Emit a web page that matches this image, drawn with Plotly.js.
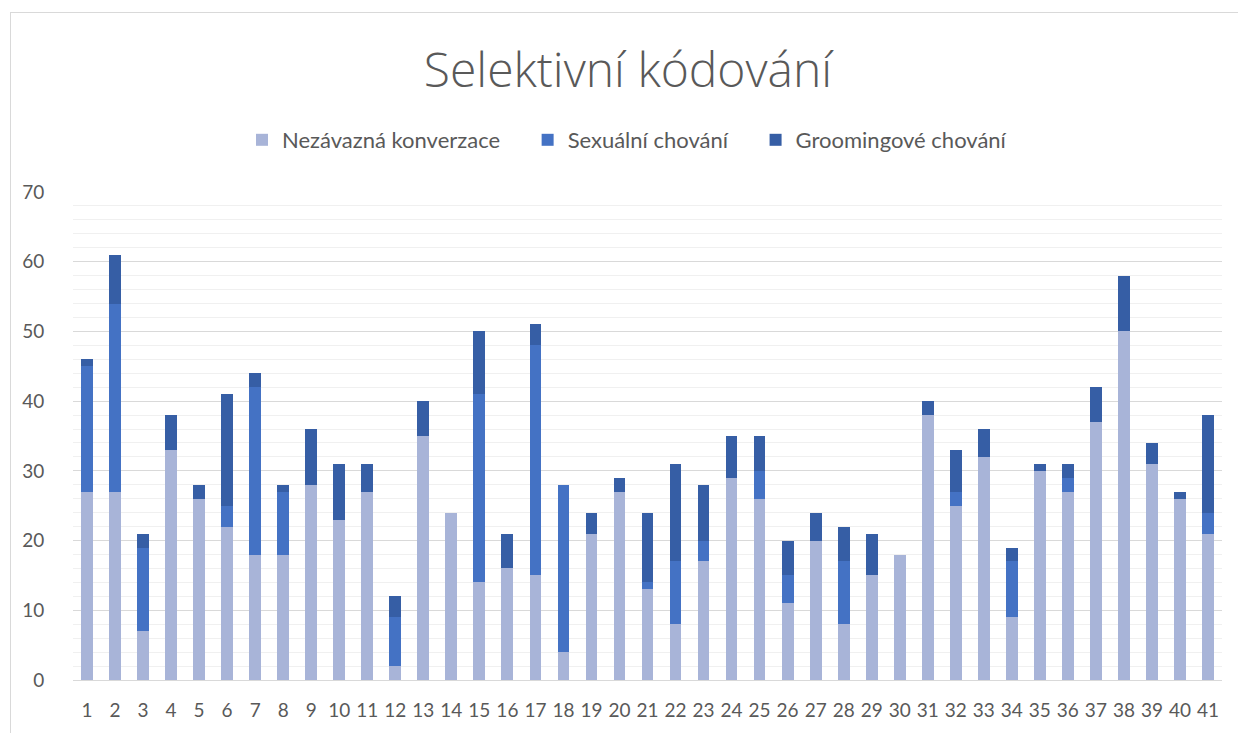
<!DOCTYPE html>
<html>
<head>
<meta charset="utf-8">
<script src="https://cdn.plot.ly/plotly-3.0.1.min.js"></script>
<style>
  html, body { margin: 0; padding: 0; background: #fff; }
  #frame { position: absolute; left: 10px; top: 12px; width: 1240px; height: 740px; border: 1px solid #d9d9d9; box-sizing: border-box; }
  #chart { position: absolute; left: 0; top: 0; width: 1238px; height: 733px; }
</style>
</head>
<body>
<div id="frame"></div>
<div id="chart"></div>
<script>
const categories = ['1','2','3','4','5','6','7','8','9','10','11','12','13','14','15','16','17','18','19','20','21','22','23','24','25','26','27','28','29','30','31','32','33','34','35','36','37','38','39','40','41'];
const nezavazna   = [27,27,7,33,26,22,18,18,28,23,27,2,35,24,14,16,15,4,21,27,13,8,17,29,26,11,20,8,15,18,38,25,32,9,30,27,37,50,31,26,21];
const sexualni    = [18,27,12,0,0,3,24,9,0,0,0,7,0,0,27,0,33,24,0,0,1,9,3,0,4,4,0,9,0,0,0,2,0,8,0,2,0,0,0,0,3];
const groomingove = [1,7,2,5,2,16,2,1,8,8,4,3,5,0,9,5,3,0,3,2,10,14,8,6,5,5,4,5,6,0,2,6,4,2,1,2,5,8,3,1,14];
const seriesNames = ['Nezávazná konverzace','Sexuální chování','Groomingové chování'];
const seriesColors = ['#A8B4D8','#4472C4','#365EA5'];
const yTicks = [0,10,20,30,40,50,60,70];

const pad = '\u00a0\u00a0\u00a0\u00a0';
const allSeries = [nezavazna, sexualni, groomingove];
const traces = allSeries.map((vals, i) => ({
  type: 'bar',
  x: categories,
  y: vals,
  name: seriesNames[i] + (i < 2 ? pad : ''),
  marker: { color: seriesColors[i], line: { width: 0 } },
  hoverinfo: 'x+y+name'
}));

const font = "Lato, 'Open Sans', 'Liberation Sans', sans-serif";
const layout = {
  width: 1238,
  height: 733,
  paper_bgcolor: 'rgba(0,0,0,0)',
  plot_bgcolor: 'rgba(0,0,0,0)',
  barmode: 'stack',
  bargap: 0.58,
  margin: { l: 73, r: 16, t: 192, b: 53 },
  font: { family: font, color: '#595959', size: 19 },
  title: {
    text: 'Selektivní kódování',
    font: { family: "'Open Sans', Lato, sans-serif", size: 48, color: '#595959', weight: 300 },
    x: 628 / 1238, xanchor: 'center', xref: 'container',
    y: 1 - 70 / 733, yanchor: 'middle', yref: 'container'
  },
  showlegend: true,
  legend: {
    orientation: 'h',
    x: (627 - 73) / 1149, xanchor: 'center',
    y: 1 + (192 - 140) / 488, yanchor: 'middle',
    traceorder: 'normal',
    font: { family: font, size: 22, color: '#595959' },
    itemwidth: 30
  },
  xaxis: {
    type: 'category',
    tickvals: categories,
    ticktext: categories,
    showgrid: false,
    showline: true,
    linecolor: '#d9d9d9',
    linewidth: 1,
    ticks: 'outside',
    ticklen: 13,
    tickcolor: 'rgba(0,0,0,0)',
    tickfont: { family: font, size: 19, color: '#595959' },
    fixedrange: true
  },
  yaxis: {
    range: [0, 70],
    tickvals: yTicks,
    showgrid: true,
    gridcolor: '#d9d9d9',
    gridwidth: 1,
    zeroline: false,
    ticks: 'outside',
    ticklen: 24,
    tickcolor: 'rgba(0,0,0,0)',
    tickfont: { family: font, size: 19, color: '#595959' },
    minor: { dtick: 2, showgrid: true, gridcolor: '#f0f0f0', gridwidth: 1, ticks: '' },
    fixedrange: true
  }
};

Plotly.newPlot('chart', traces, layout, { displayModeBar: false, staticPlot: true });
</script>
</body>
</html>
